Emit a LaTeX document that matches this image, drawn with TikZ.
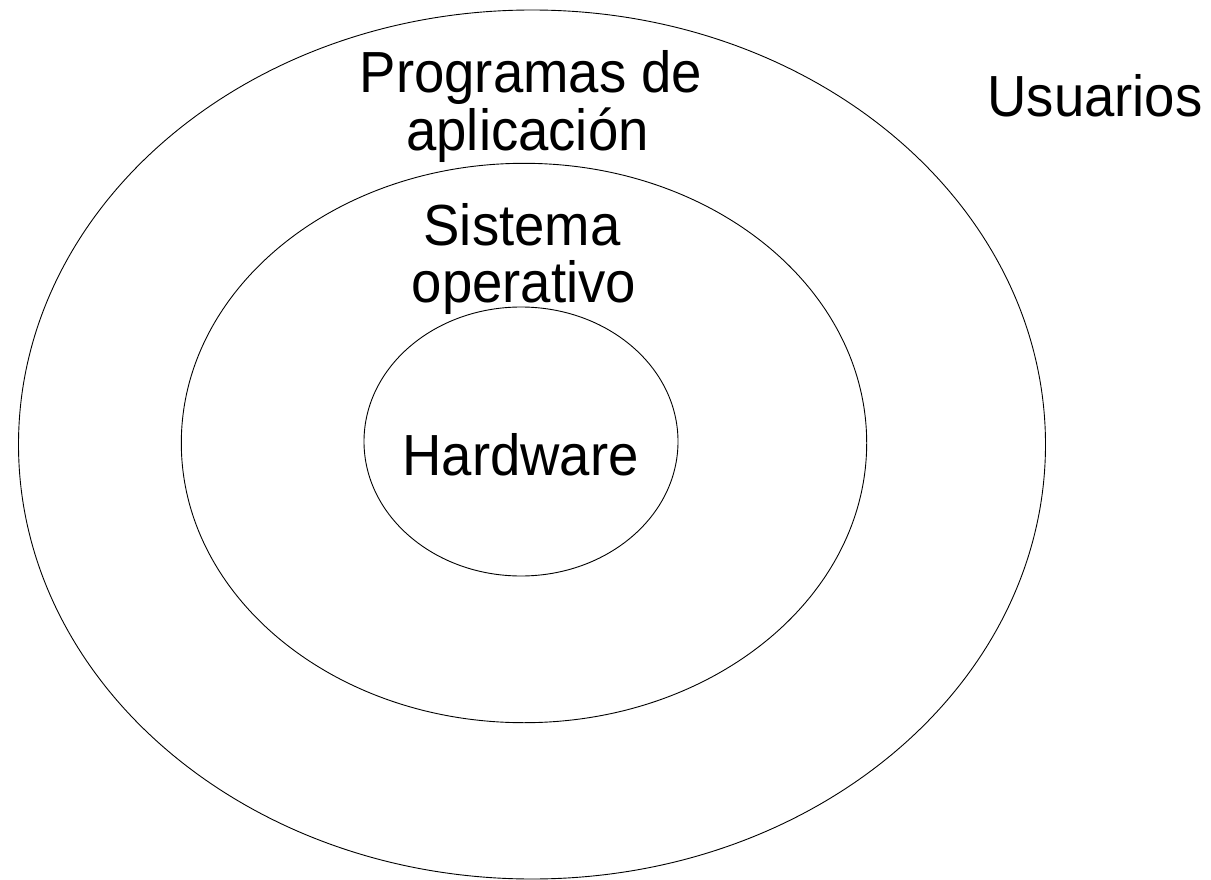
\documentclass[tikz,border=0pt]{standalone}
\usepackage{fontspec}
\setmainfont[FakeStretch=0.94]{Liberation Sans}
\begin{document}
\begin{tikzpicture}[x=1pt,y=-1pt,
  ring/.style={draw=black,line width=0.9pt},
  lbl/.style={anchor=base,inner sep=0pt,font=\fontsize{58}{57.5}\selectfont}]
\useasboundingbox (0,0) rectangle (1211,880);
\draw[ring] (532,444.5) ellipse [x radius=513.5, y radius=434.5];
\draw[ring] (524,443) ellipse [x radius=342.7, y radius=279.7];
\draw[ring] (521,441.5) ellipse [x radius=157, y radius=134.5];
\node[lbl] (prog) at (531,93) {Programas de};
\node[lbl] (apli) at (527.5,150.5) {aplicación};
\node[lbl] (sist) at (522,245) {Sistema};
\node[lbl] (oper) at (524,302) {operativo};
\node[lbl] (hard) at (520.5,475) {Hardware};
\node[lbl] (usu) at (1095,116.7) {Usuarios};
\end{tikzpicture}
\end{document}
